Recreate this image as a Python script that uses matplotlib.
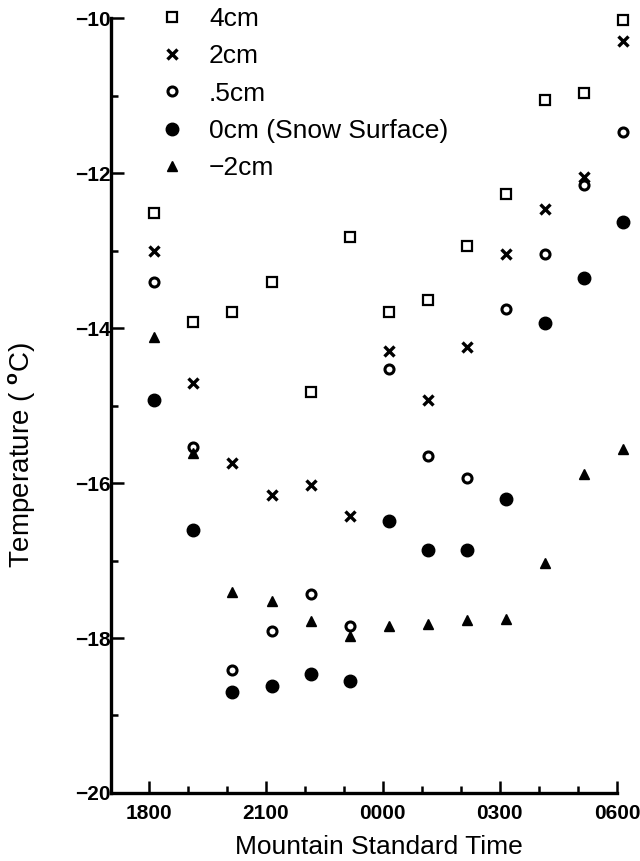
import numpy as np
import matplotlib
matplotlib.use("Agg")
import matplotlib.pyplot as plt
from matplotlib.ticker import MultipleLocator, FixedLocator

plt.rcParams['font.family'] = ['Liberation Sans', 'DejaVu Sans']
plt.rcParams['mathtext.fontset'] = 'custom'
plt.rcParams['mathtext.bf'] = 'Liberation Sans:bold'
plt.rcParams['mathtext.rm'] = 'Liberation Sans'

# hours after 1800 local time, observations just after each hour
hours = np.arange(13) + 18.15
tick_pos = [18, 21, 24, 27, 30]
tick_lab = ['1800', '2100', '0000', '0300', '0600']

t_4cm = [-12.51, -13.92, -13.79, -13.40, -14.83, -12.83, -13.79, -13.64, -12.94, -12.27, -11.06, -10.97, -10.03]
t_2cm = [-13.00, -14.71, -15.74, -16.16, -16.02, -16.42, -14.29, -14.93, -14.24, -13.04, -12.46, -12.05, -10.29]
t_05cm = [-13.40, -15.54, -18.41, -17.91, -17.43, -17.84, -14.53, -15.65, -15.93, -13.75, -13.04, -12.15, -11.47]
t_0cm = [-14.93, -16.60, -18.70, -18.62, -18.46, -18.55, -16.49, -16.86, -16.86, -16.20, -13.94, -13.36, -12.63]
t_m2cm = [-14.12, -15.61, -17.40, -17.52, -17.78, -17.97, -17.84, -17.82, -17.77, -17.75, -17.03, -15.89, -15.56]

fig = plt.figure(figsize=(6.4, 8.61), dpi=100)
ax = fig.add_axes([0.173, 0.079, 0.791, 0.900])

kw = dict(linestyle='none', color='black', clip_on=False)
ax.plot(hours, t_4cm, marker='s', markersize=7, markerfacecolor='white', markeredgewidth=1.6, label='4cm', **kw)
ax.plot(hours, t_2cm, marker='x', markersize=6.5, markeredgewidth=2.4, label='2cm', **kw)
ax.plot(hours, t_05cm, marker='o', markersize=6.5, markerfacecolor='white', markeredgewidth=2.2, label='.5cm', **kw)
ax.plot(hours, t_0cm, marker='o', markersize=9, label='0cm (Snow Surface)', **kw)
ax.plot(hours, t_m2cm, marker='^', markersize=7.5, label='\u22122cm', **kw)

ax.set_xlim(17.03, 30)
ax.set_ylim(-20, -10)

for s in ['top', 'right']:
    ax.spines[s].set_visible(False)
for s in ['left', 'bottom']:
    ax.spines[s].set_linewidth(2.4)

ax.xaxis.set_major_locator(FixedLocator(tick_pos))
ax.set_xticklabels(tick_lab)
ax.xaxis.set_minor_locator(FixedLocator(np.arange(18, 31)))
ax.yaxis.set_major_locator(MultipleLocator(2))
ax.yaxis.set_minor_locator(MultipleLocator(1))
ax.set_yticklabels(['\u2212%d' % abs(v) for v in ax.get_yticks()])

ax.tick_params(which='both', direction='in', width=1.8, colors='black')
ax.tick_params(which='major', length=9, labelsize=15)
ax.tick_params(which='minor', length=5)
ax.tick_params(axis='x', which='major', pad=8)
ax.tick_params(axis='y', which='major', pad=0)
for lab in ax.get_xticklabels() + ax.get_yticklabels():
    lab.set_fontweight('bold')

ax.set_xlabel('Mountain Standard Time', fontsize=19)
ax.xaxis.set_label_coords(0.53, -0.054)
ax.set_ylabel(r'Temperature ( $\mathbf{^o}$C)', fontsize=20)
ax.yaxis.set_label_coords(-0.146, 0.436)

ax.legend(loc='upper left', bbox_to_anchor=(0.095, 1.014), frameon=False,
          fontsize=19, handlelength=1.0, handletextpad=0.9, labelspacing=0.5,
          borderpad=0, borderaxespad=0, numpoints=1)

fig.savefig('out.png', dpi=100)
